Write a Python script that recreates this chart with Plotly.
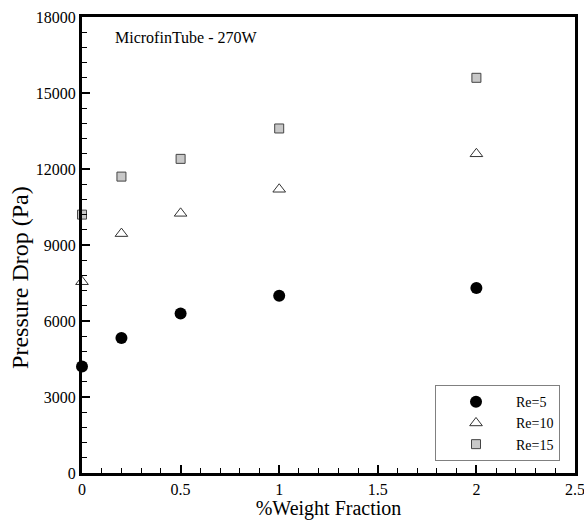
import plotly.graph_objects as go

weight_fraction = [0, 0.2, 0.5, 1, 2]
re5 = [4200, 5330, 6300, 7000, 7300]
re10 = [7550, 9450, 10250, 11200, 12600]
re15 = [10200, 11700, 12400, 13600, 15600]

FONT = "Liberation Serif"

fig = go.Figure()
fig.add_trace(go.Scatter(x=weight_fraction, y=re5, mode="markers", name="Re=5",
                         cliponaxis=False,
                         marker=dict(symbol="circle", size=12, color="black",
                                     line=dict(width=0))))
fig.add_trace(go.Scatter(x=weight_fraction, y=re10, mode="markers", name="Re=10",
                         cliponaxis=False,
                         marker=dict(symbol="triangle-up-open", size=11, color="#333333",
                                     line=dict(width=1, color="#333333"))))
fig.add_trace(go.Scatter(x=weight_fraction, y=re15, mode="markers", name="Re=15",
                         cliponaxis=False,
                         marker=dict(symbol="square", size=9, color="#c8c8c8",
                                     line=dict(width=1, color="#444444"))))

axis_common = dict(
    showline=True, linewidth=3, linecolor="black", mirror=True,
    ticks="inside", ticklen=8, tickwidth=2, tickcolor="black",
    showgrid=False, zeroline=False, automargin=False,
    ticklabeloverflow="allow",
    tickfont=dict(family=FONT, size=16, color="black"),
)

fig.update_layout(
    width=584, height=520,
    margin=dict(l=82, r=9, t=17, b=47),
    paper_bgcolor="white", plot_bgcolor="white",
    font=dict(family=FONT, color="black"),
    xaxis=dict(range=[0, 2.5], dtick=0.5, tick0=0,
               minor=dict(dtick=0.1, ticks="inside", ticklen=5, tickwidth=1, tickcolor="black"),
               title=dict(text="%Weight Fraction", font=dict(family=FONT, size=20), standoff=12),
               **axis_common),
    yaxis=dict(range=[0, 18000], dtick=3000, tick0=0, tickformat="d",
               minor=dict(dtick=600, ticks="inside", ticklen=5, tickwidth=1, tickcolor="black"),
               **axis_common),
    legend=dict(x=0.9696, xanchor="right", y=0.026, yanchor="bottom",
                bgcolor="white", bordercolor="#808080", borderwidth=1,
                font=dict(family=FONT, size=14, color="black"),
                tracegroupgap=0, itemwidth=70),
    annotations=[
        dict(text="MicrofinTube - 270W", xref="paper", yref="paper",
             x=0.063, y=0.956, xanchor="left", yanchor="middle",
             showarrow=False, font=dict(family=FONT, size=16, color="black")),
        dict(text="Pressure Drop (Pa)", xref="paper", yref="paper",
             x=-0.1258, y=0.43, xanchor="center", yanchor="middle", textangle=-90,
             showarrow=False, font=dict(family=FONT, size=24, color="black")),
    ],
)

fig.write_html("out.html")
